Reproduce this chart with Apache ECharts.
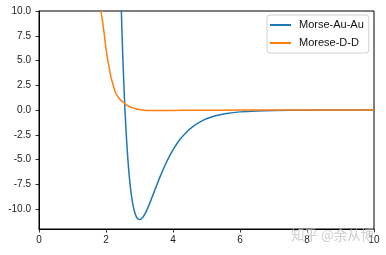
<!DOCTYPE html>
<html>
<head>
<meta charset="utf-8">
<script src="https://cdn.jsdelivr.net/npm/echarts@6/dist/echarts.min.js"></script>
<style>
html,body{margin:0;padding:0;background:#fff;}
#c{width:386px;height:255px;}
</style>
</head>
<body>
<div id="c"></div>
<script>
// Data
const seriesNames = ['Morse-Au-Au', 'Morese-D-D'];
const auX = [2.40, 2.45, 2.50, 2.55, 2.60, 2.65, 2.70, 2.75, 2.80, 2.85, 2.90, 2.95, 3.00, 3.05, 3.10, 3.15, 3.20, 3.25, 3.30, 3.40, 3.50, 3.60, 3.70, 3.80, 3.90, 4.00, 4.20, 4.40, 4.60, 4.80, 5.00, 5.30, 5.60, 6.00, 6.50, 7.00, 8.00, 9.00, 10.00];
const auY = [17.66, 10.95, 5.55, 1.24, -2.17, -4.82, -6.86, -8.38, -9.48, -10.24, -10.72, -10.97, -11.05, -10.98, -10.81, -10.55, -10.22, -9.85, -9.44, -8.58, -7.70, -6.84, -6.04, -5.29, -4.62, -4.01, -3.00, -2.23, -1.64, -1.21, -0.88, -0.55, -0.34, -0.18, -0.08, -0.04, -0.01, 0.00, 0.00];
const ddX = [1.80, 1.85, 1.90, 1.95, 2.00, 2.05, 2.10, 2.15, 2.20, 2.25, 2.30, 2.40, 2.50, 2.55, 2.60, 2.70, 2.80, 2.90, 3.00, 3.10, 3.20, 3.40, 3.60, 3.80, 4.00, 4.50, 5.00, 6.00, 8.00, 10.00];
const ddY = [12.2, 10.0, 8.9, 7.6, 6.2, 5.1, 4.2, 3.3, 2.7, 2.1, 1.65, 1.15, 0.82, 0.70, 0.56, 0.36, 0.22, 0.12, 0.05, 0.00, -0.03, -0.05, -0.05, -0.04, -0.03, -0.02, -0.01, 0.00, 0.00, 0.00];
const yTicks = [-10.0, -7.5, -5.0, -2.5, 0.0, 2.5, 5.0, 7.5, 10.0];
const xTicks = [0, 2, 4, 6, 8, 10];
const watermark = '知乎 @余从博';

const colors = ['#1f77b4', '#ff7f0e'];
const pairs = (xs, ys) => xs.map((x, i) => [x, ys[i]]);

const chart = echarts.init(document.getElementById('c'), null, {renderer: 'canvas'});
const font = 'Liberation Sans';
chart.setOption({
  animation: false,
  backgroundColor: '#fff',
  color: colors,
  grid: {left: 39, right: 12, top: 11, bottom: 26, show: true, borderColor: '#000', borderWidth: 1, backgroundColor: 'transparent'},
  xAxis: {
    type: 'value', min: 0, max: 10, interval: 2,
    axisLine: {show: true, onZero: false, lineStyle: {color: '#000', width: 1}},
    axisTick: {show: true, length: 3.5, lineStyle: {color: '#000', width: 0.8}, customValues: xTicks},
    axisLabel: {color: '#222', fontSize: 10, fontFamily: font, margin: 6, customValues: xTicks},
    splitLine: {show: false}
  },
  yAxis: {
    type: 'value', min: -12, max: 10,
    axisLine: {show: true, onZero: false, lineStyle: {color: '#000', width: 1}},
    axisTick: {show: true, length: 3.5, lineStyle: {color: '#000', width: 0.8}, customValues: yTicks},
    axisLabel: {color: '#222', fontSize: 10, fontFamily: font, margin: 8, customValues: yTicks,
      formatter: v => Number(v).toFixed(1)},
    splitLine: {show: false}
  },
  legend: {
    orient: 'vertical', left: 267, top: 15,
    data: seriesNames,
    icon: 'rect', itemWidth: 21, itemHeight: 2, itemGap: 4,
    padding: [3, 5, 3, 3],
    backgroundColor: 'rgba(255,255,255,0.85)', borderColor: '#d0d0d0', borderWidth: 1, borderRadius: 3,
    textStyle: {fontSize: 11, fontFamily: font, color: '#111', lineHeight: 14, padding: [0, 0, 0, 3]}
  },
  graphic: [{
    type: 'text', left: 291, top: 228, z: 100,
    style: {text: watermark, fontSize: 13.5, fontFamily: 'Noto Sans CJK SC', fill: 'rgba(190,190,190,0.75)'}
  }],
  series: [
    {name: seriesNames[0], type: 'line', data: pairs(auX, auY), showSymbol: false, symbol: 'none', clip: true, smooth: 0.3,
     lineStyle: {width: 1.5, color: colors[0]}},
    {name: seriesNames[1], type: 'line', data: pairs(ddX, ddY), showSymbol: false, symbol: 'none', clip: true, smooth: 0.3,
     lineStyle: {width: 1.5, color: colors[1]}}
  ]
});
</script>
</body>
</html>
